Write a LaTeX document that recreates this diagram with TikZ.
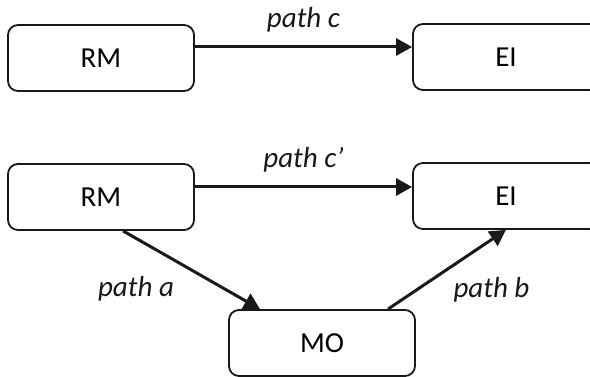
\documentclass[tikz,border=0pt]{standalone}
\usepackage{fontspec}
\setmainfont{Carlito}
\usetikzlibrary{arrows.meta,positioning}
\tikzset{
    % boxes
    boxnode/.style={
        draw=black!90,
        line width=1.8pt,
        rounded corners=10pt,
        minimum width=186pt,
        minimum height=66pt,
        font=\fontsize{29}{34}\selectfont
    },
    % connectors
    patharrow/.style={
        line width=3pt,
        black!90,
        -{Triangle[length=16pt, width=17pt]}
    },
    pathlabel/.style={
        inner sep=0pt,
        font=\fontsize{29}{34}\selectfont\itshape
    }
}

\begin{document}
\begin{tikzpicture}[x=1pt,y=-1pt]
    \useasboundingbox (0,0) rectangle (590,377);
    \clip (0,0) rectangle (590,377);

    % top: direct path only
    \node[boxnode] (rm1) at (101,58) {RM};
    \node[boxnode] (ei1) at (506,57) {EI};

    % bottom: with mediator
    \node[boxnode] (rm2) at (101,197) {RM};
    \node[boxnode] (ei2) at (506,196) {EI};
    \node[boxnode] (mo) at (322,343) {MO};

    \draw[patharrow] ([yshift=11pt]rm1.east) -- ([yshift=10pt]ei1.west)
        node[pathlabel, midway, above=13pt] (lc) {path c};
    \draw[patharrow] ([yshift=10pt]rm2.east) -- ([yshift=9pt]ei2.west)
        node[pathlabel, midway, above=13pt] (lcp) {path c'};
    \draw[patharrow] ([xshift=22pt]rm2.south) -- ([xshift=-62pt]mo.north)
        node[pathlabel, midway, below left=5pt and 16pt] (la) {path a};
    \draw[patharrow] ([xshift=66pt]mo.north) -- (ei2.south)
        node[pathlabel, midway, below right=6pt and 5pt] (lb) {path b};

\end{tikzpicture}
\end{document}
